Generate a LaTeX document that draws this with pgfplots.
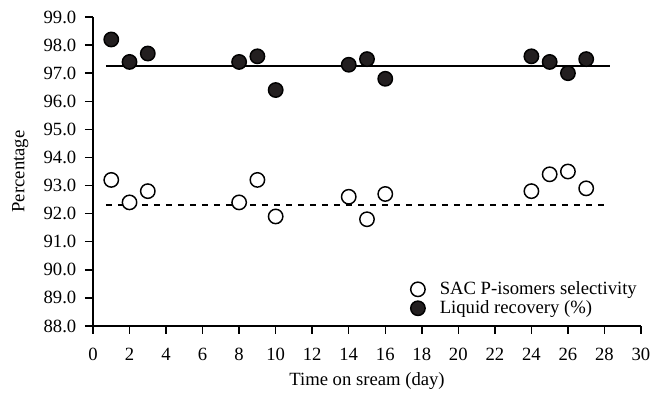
\documentclass[border=0pt]{standalone}
\usepackage{pgfplots}
\pgfplotsset{compat=1.18}
\usepackage{fontspec}
\setmainfont{Liberation Serif}
\definecolor{dk}{HTML}{231F20}
\begin{document}
\begin{tikzpicture}[font=\fontsize{14}{16}\selectfont]
\path[use as bounding box] (-69.75pt,-51.75pt) rectangle (418.5pt,244.5pt);
\begin{axis}[
  name=ax,
  at={(0pt,0pt)}, anchor=south west,
  scale only axis,
  width=411pt, height=231.75pt,
  xmin=0, xmax=30, ymin=88, ymax=99,
  axis x line*=bottom, axis y line*=left,
  axis line style={-, line width=1.1pt},
  xtick={0,2,...,30}, ytick={88,89,...,99},
  tick align=outside,
  major tick length=6pt,
  tick style={line width=1.1pt, black},
  /pgf/number format/assume math mode=true,
  yticklabel style={xshift=-3pt, /pgf/number format/.cd, fixed, fixed zerofill, precision=1},
  xticklabel style={yshift=-7pt, /pgf/number format/.cd, fixed, precision=0},
  xlabel={Time on sream (day)},
  ylabel={Percentage},
  xlabel style={yshift=-2pt},
  ylabel style={yshift=4.5pt},
  legend style={draw=none, fill=none, at={(1.005,0.015)}, anchor=south east,
    row sep=-1pt, column sep=9pt, font=\fontsize{14}{16}\selectfont},
  legend cell align=left,
  clip=false,
]
\addplot[forget plot, black, line width=1.1pt] coordinates {(0.7,97.25) (28.3,97.25)};
\addplot[forget plot, black, line width=1.1pt, dash pattern=on 5pt off 4pt] coordinates {(0.7,92.3) (28.2,92.3)};
\addplot[only marks, mark=*, mark size=5.4pt, mark options={fill=white, draw=black, line width=1.1pt}]
coordinates {(1,93.2) (2,92.4) (3,92.8) (8,92.4) (9,93.2) (10,91.9) (14,92.6) (15,91.8) (16,92.7) (24,92.8) (25,93.4) (26,93.5) (27,92.9)};
\addlegendentry{SAC P-isomers selectivity}
\addplot[only marks, mark=*, mark size=5.4pt, mark options={fill=dk, draw=black, line width=1.1pt}]
coordinates {(1,98.2) (2,97.4) (3,97.7) (8,97.4) (9,97.6) (10,96.4) (14,97.3) (15,97.5) (16,96.8) (24,97.6) (25,97.4) (26,97.0) (27,97.5)};
\addlegendentry{Liquid recovery (\%)}
\end{axis}
\end{tikzpicture}
\end{document}
